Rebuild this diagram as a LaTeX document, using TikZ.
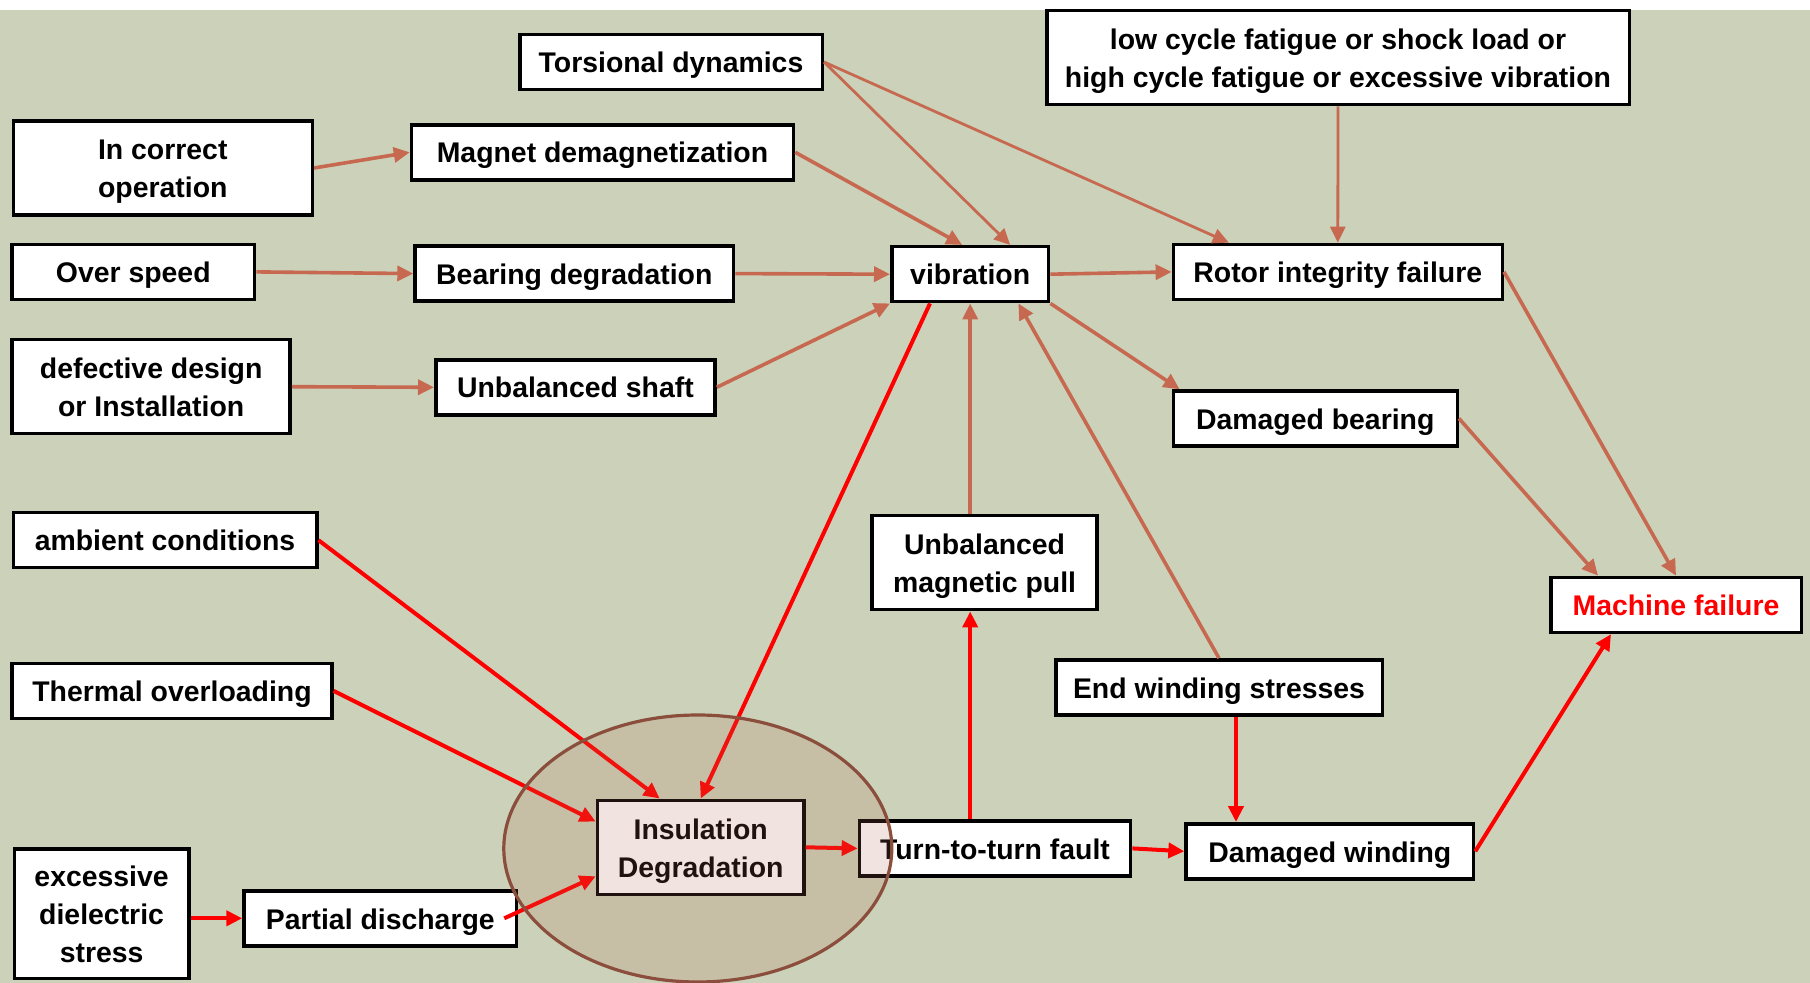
\documentclass[tikz,border=0pt]{standalone}
\usepackage{fontspec}
\setmainfont{Liberation Sans}
\usetikzlibrary{arrows.meta,calc}
\definecolor{bgc}{RGB}{204,210,186}
\definecolor{arrbrown}{RGB}{198,105,80}
\definecolor{ellfill}{RGB}{181,101,78}
\definecolor{elldraw}{RGB}{139,78,60}
\definecolor{failred}{RGB}{255,0,0}
\tikzset{
  box/.style={draw=black, line width=1.75pt, fill=white, inner sep=0pt, align=center,
    minimum height=27.5pt, text height=11.5pt, text depth=0.8pt,
    font=\fontsize{14.2}{19}\selectfont\bfseries},
  tall/.style={minimum height=47pt, text height=30.5pt},
  taller/.style={minimum height=64.6pt, text height=49.5pt},
  barrow/.style={draw=arrbrown, line width=1.8pt, -{Triangle[length=8pt,width=7.5pt]}},
  thinb/.style={line width=1.4pt},
  rarrow/.style={draw=failred, line width=2pt, -{Triangle[length=8pt,width=7.5pt]}},
}
\begin{document}
\begin{tikzpicture}[x=0.5pt,y=-0.5pt]
\useasboundingbox (0,0) rectangle (1810,983);
\fill[white] (0,0) rectangle (1810,983);
\fill[bgc] (0,10) rectangle (1810,983);

% nodes
\node[box, minimum width=151.25pt] (tors) at (671,62) {Torsional dynamics};
\node[box, tall, minimum width=291.25pt] (lcf) at (1338,57.7) {low cycle fatigue or shock load or\\high cycle fatigue or excessive vibration};
\node[box, tall, minimum width=149.5pt] (inc) at (162.8,168) {In correct\\operation};
\node[box, minimum width=191pt] (mag) at (602.5,152.3) {Magnet demagnetization};
\node[box, minimum width=121.25pt] (over) at (133.3,271.9) {Over speed};
\node[box, minimum width=159.25pt] (bear) at (574.3,273.6) {Bearing degradation};
\node[box, minimum width=78.45pt] (vib) at (970.2,274.2) {vibration};
\node[box, minimum width=164.45pt] (rot) at (1337.8,271.9) {Rotor integrity failure};
\node[box, tall, minimum width=139pt] (def) at (151.2,386.7) {defective design\\or Installation};
\node[box, minimum width=139.65pt] (unb) at (575.4,387.3) {Unbalanced shaft};
\node[box, minimum width=141.95pt] (dbear) at (1315.3,418.5) {Damaged bearing};
\node[box, minimum width=151.75pt] (amb) at (165,540.2) {ambient conditions};
\node[box, tall, minimum width=112.55pt] (ump) at (984.6,562.7) {Unbalanced\\magnetic pull};
\node[box, minimum width=125.25pt, text=failred] (mach) at (1676,604.9) {Machine failure};
\node[box, minimum width=159.85pt] (therm) at (172,690.9) {Thermal overloading};
\node[box, minimum width=163.25pt] (ews) at (1219,687.4) {End winding stresses};
\node[box, tall, minimum width=103.25pt] (ins) at (700.7,847.3) {Insulation\\Degradation};
\node[box, minimum width=135.6pt] (ttf) at (995,848.4) {Turn-to-turn fault};
\node[box, minimum width=143.7pt] (dw) at (1329.8,851.3) {Damaged winding};
\node[box, taller, minimum width=87.15pt] (eds) at (101.6,913.7) {excessive\\dielectric\\stress};
\node[box, minimum width=136.25pt] (pd) at (380.3,918.3) {Partial discharge};

% brown connectors
\draw[barrow] (inc.east) -- (mag.west);
\draw[barrow] (over.east) -- (bear.west);
\draw[barrow] (def.east) -- (unb.west);
\draw[barrow] (mag.east) -- ([xshift=-4pt]vib.north);
\draw[barrow, thinb] (tors.east) -- ([xshift=20pt]vib.north);
\draw[barrow, thinb] (tors.east) -- ([xshift=-54.5pt]rot.north);
\draw[barrow] (bear.east) -- (vib.west);
\draw[barrow] (unb.east) -- (vib.south west);
\draw[barrow] (vib.east) -- (rot.west);
\draw[barrow, thinb] (lcf.south) -- (rot.north);
\draw[barrow] (vib.south east) -- ([xshift=4pt]dbear.north west);
\draw[barrow] (rot.east) -- (mach.north);
\draw[barrow] (dbear.east) -- ([xshift=-39pt]mach.north);
\draw[barrow] (vib.south |- ump.north) -- (vib.south);
\draw[barrow] (ews.north) -- ([xshift=-16pt]vib.south east);

% red connectors
\draw[rarrow] ([xshift=20pt]vib.south west) -- (ins.north);
\draw[rarrow] (amb.east) -- ([xshift=-20.5pt]ins.north);
\draw[rarrow] (therm.east) -- ([yshift=-11.5pt]ins.north west);
\draw[rarrow] ([xshift=-7pt]pd.east) -- ([yshift=-14.5pt]ins.west);
\draw[rarrow] (eds.east |- pd.west) -- (pd.west);
\draw[rarrow] (ins.east) -- (ttf.west);
\draw[rarrow] (vib.south |- ttf.north) -- (vib.south |- ump.south);
\draw[rarrow] (ttf.east) -- (dw.west);
\coordinate (ewsb) at ([xshift=8.5pt]ews.south);
\draw[rarrow] (ewsb) -- (ewsb |- dw.north);
\draw[rarrow] (dw.east) -- ([xshift=-32.5pt]mach.south);

% highlight ellipse
\draw[draw=elldraw, line width=1.6pt, fill=ellfill, fill opacity=0.18] (697.8,848.5) ellipse [x radius=194, y radius=133.5];
\end{tikzpicture}
\end{document}
